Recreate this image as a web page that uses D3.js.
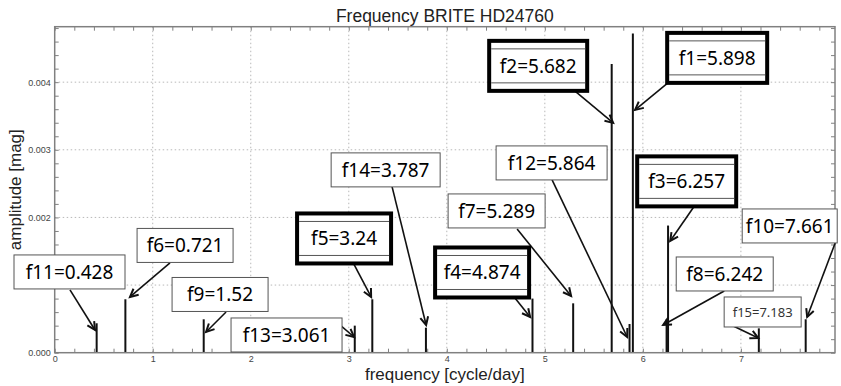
<!DOCTYPE html>
<html>
<head>
<meta charset="utf-8">
<script src="https://cdn.jsdelivr.net/npm/d3@7"></script>
<style>
body { margin: 0; background: #fff; }
</style>
</head>
<body>
<div id="chart"></div>
<script>
// SVG dims
var width = 841;
var height = 386;
var margin = {left: 54.7, right: 6, top: 26.7, bottom: 33.3};

// Peak data (f1 ... f15)
var names = ["f1", "f2", "f3", "f4", "f5", "f6", "f7", "f8", "f9", "f10", "f11", "f12", "f13", "f14", "f15"];
var freqs = [5.898, 5.682, 6.257, 4.874, 3.24, 0.721, 5.289, 6.242, 1.52, 7.661, 0.428, 5.864, 3.061, 3.787, 7.183];
var amps = [0.00472, 0.00427, 0.00188, 0.00080, 0.00079, 0.00079, 0.00073, 0.000494, 0.000494, 0.000494, 0.000435, 0.000424, 0.00040, 0.00037, 0.00036];
var labels = ["f1=5.898", "f2=5.682", "f3=6.257", "f4=4.874", "f5=3.24", "f6=0.721", "f7=5.289", "f8=6.242", "f9=1.52", "f10=7.661", "f11=0.428", "f12=5.864", "f13=3.061", "f14=3.787", "f15=7.183"];

// Axis ticks
var xTicks = [0, 1, 2, 3, 4, 5, 6, 7];
var yTicks = [0, 0.001, 0.002, 0.003, 0.004];

// Annotation layout, in data units (label centre, arrow tail, arrow head)
var labelX = [6.758, 4.932, 6.447, 4.360, 2.952, 1.330, 4.508, 6.835, 1.687, 7.498, 0.151, 5.069, 2.365, 3.376, 7.222];
var labelY = [0.004359, 0.004241, 0.002533, 0.001186, 0.001689, 0.001586, 0.002096, 0.001164, 0.000861, 0.001874, 0.001194, 0.002806, 0.000262, 0.002703, 0.000602];
var tailX = [6.330, 5.207, 6.554, 4.646, 3.013, 1.176, 4.717, 6.830, 1.748, 7.962, 0.156, 5.074, 2.921, 3.442, 6.901];
var tailY = [0.004078, 0.00399, 0.002229, 0.000898, 0.001416, 0.001327, 0.00183, 0.000913, 0.000602, 0.001623, 0.000928, 0.002555, 0.000395, 0.002451, 0.00041];
var headX = [5.921, 5.697, 6.279, 4.850, 3.228, 0.768, 5.268, 6.207, 1.544, 7.676, 0.411, 5.840, 3.054, 3.789, 7.177];
var headY = [0.00359, 0.003398, 0.001652, 0.000528, 0.000824, 0.000824, 0.000839, 0.00041, 0.000306, 0.000528, 0.000336, 0.000232, 0.000232, 0.00041, 0.000217];
// box widths (px) and which boxes are emphasised
var boxW = [100, 98, 99, 94, 94, 96, 97, 97, 96, 95, 111, 111, 111, 109, 77];
var strong = [true, true, true, true, true, false, false, false, false, false, false, false, false, false, false];

var svg = d3.select("#chart").append("svg")
    .attr("width", width)
    .attr("height", height)
    .style("font-family", "'Liberation Sans', Arial, sans-serif");

var x = d3.scaleLinear().domain([0, 7.96]).range([margin.left, width - margin.right]);
var y = d3.scaleLinear().domain([0, 0.00482]).range([height - margin.bottom, margin.top]);

var plotW = x.range()[1] - x.range()[0];
var plotH = y.range()[0] - y.range()[1];

// grid
svg.append("g").selectAll("line.gx")
    .data(xTicks.slice(1)).enter()
    .append("line")
    .attr("x1", function(d) { return x(d); })
    .attr("x2", function(d) { return x(d); })
    .attr("y1", y.range()[1])
    .attr("y2", y.range()[0])
    .attr("stroke", "#b8b8b8")
    .attr("stroke-dasharray", "1.5,2.5");
svg.append("g").selectAll("line.gy")
    .data(yTicks.slice(1)).enter()
    .append("line")
    .attr("y1", function(d) { return y(d); })
    .attr("y2", function(d) { return y(d); })
    .attr("x1", x.range()[0])
    .attr("x2", x.range()[1])
    .attr("stroke", "#b8b8b8")
    .attr("stroke-dasharray", "1.5,2.5");

// axes with minor ticks, all pointing inwards
var xMinor = d3.range(0, 40).map(function(i) { return +(i * 0.2).toFixed(1); });
var yMinor = d3.range(0, 25).map(function(i) { return +(i * 0.0002).toFixed(4); });

function styleAxis(g) {
    g.select(".domain").remove();
    g.selectAll(".tick line").attr("stroke", "#808080");
    g.selectAll(".tick text").attr("fill", "#444").style("font-size", "9px");
}

svg.append("g")
    .attr("transform", "translate(0," + y.range()[0] + ")")
    .call(d3.axisBottom(x).tickValues(xMinor).tickSize(-4).tickPadding(3)
        .tickFormat(function(d) { return xTicks.indexOf(d) >= 0 ? d : ""; }))
    .call(styleAxis);
svg.append("g")
    .attr("transform", "translate(0," + y.range()[1] + ")")
    .call(d3.axisTop(x).tickValues(xMinor).tickSize(-4).tickFormat(""))
    .call(styleAxis);
svg.append("g")
    .attr("transform", "translate(" + x.range()[0] + ",0)")
    .call(d3.axisLeft(y).tickValues(yMinor).tickSize(-4).tickPadding(4)
        .tickFormat(function(d) {
            return yTicks.some(function(t) { return Math.abs(t - d) < 1e-9; }) ? d3.format(".3f")(d) : "";
        }))
    .call(styleAxis);
svg.append("g")
    .attr("transform", "translate(" + x.range()[1] + ",0)")
    .call(d3.axisRight(y).tickValues(yMinor).tickSize(-4).tickFormat(""))
    .call(styleAxis);

// peaks
svg.append("g").selectAll("line")
    .data(freqs).enter()
    .append("line")
    .attr("x1", function(d) { return x(d); })
    .attr("x2", function(d) { return x(d); })
    .attr("y1", y(0))
    .attr("y2", function(d, i) { return y(amps[i]); })
    .attr("stroke", "#111")
    .attr("stroke-width", 2);

// frame
svg.append("rect")
    .attr("x", x.range()[0])
    .attr("y", y.range()[1])
    .attr("width", plotW)
    .attr("height", plotH)
    .attr("fill", "none")
    .attr("stroke", "#808080")
    .attr("stroke-width", 1.5);

// arrow marker
svg.append("defs").append("marker")
    .attr("id", "arr")
    .attr("markerUnits", "userSpaceOnUse")
    .attr("markerWidth", 12)
    .attr("markerHeight", 12)
    .attr("refX", 9)
    .attr("refY", 5)
    .attr("orient", "auto")
    .append("path")
    .attr("d", "M1,1 L9,5 L1,9")
    .attr("fill", "none")
    .attr("stroke", "#111")
    .attr("stroke-width", 2);

svg.append("g").selectAll("line")
    .data(names).enter()
    .append("line")
    .attr("x1", function(d, i) { return x(tailX[i]); })
    .attr("y1", function(d, i) { return y(tailY[i]); })
    .attr("x2", function(d, i) { return x(headX[i]); })
    .attr("y2", function(d, i) { return y(headY[i]); })
    .attr("stroke", "#111")
    .attr("stroke-width", 1.6)
    .attr("marker-end", "url(#arr)");

// label boxes
var boxes = svg.append("g").selectAll("g")
    .data(names).enter()
    .append("g")
    .attr("transform", function(d, i) { return "translate(" + x(labelX[i]) + "," + y(labelY[i]) + ")"; });

boxes.append("rect")
    .attr("x", function(d, i) { return -boxW[i] / 2; })
    .attr("y", function(d, i) { return strong[i] ? -25 : (d === "f15" ? -15 : -17); })
    .attr("width", function(d, i) { return boxW[i]; })
    .attr("height", function(d, i) { return strong[i] ? 50 : (d === "f15" ? 30 : 34); })
    .attr("fill", "#fff")
    .attr("stroke", function(d, i) { return strong[i] ? "#000" : "#555"; })
    .attr("stroke-width", function(d, i) { return strong[i] ? 4 : 1; });

boxes.filter(function(d, i) { return strong[i]; })
    .each(function(d) {
        var g = d3.select(this);
        var w = boxW[names.indexOf(d)];
        [-17, 17].forEach(function(off) {
            g.append("line")
                .attr("x1", -w / 2 + 2).attr("x2", w / 2 - 2)
                .attr("y1", off).attr("y2", off)
                .attr("stroke", "#555").attr("stroke-width", 1);
        });
    });

boxes.append("text")
    .attr("text-anchor", "middle")
    .attr("dy", "0.36em")
    .style("font-family", "'Noto Sans', 'DejaVu Sans', sans-serif")
    .style("font-size", function(d) { return d === "f15" ? "13px" : "19px"; })
    .attr("fill", function(d) { return d === "f15" ? "#333" : "#000"; })
    .text(function(d, i) { return labels[i]; });

// titles
svg.append("text")
    .attr("x", (x.range()[0] + x.range()[1]) / 2)
    .attr("y", 22)
    .attr("text-anchor", "middle")
    .style("font-size", "17.5px")
    .attr("fill", "#222")
    .text("Frequency BRITE HD24760");

svg.append("text")
    .attr("x", (x.range()[0] + x.range()[1]) / 2)
    .attr("y", 380)
    .attr("text-anchor", "middle")
    .style("font-size", "17px")
    .attr("fill", "#222")
    .text("frequency [cycle/day]");

svg.append("text")
    .attr("transform", "translate(21," + (y.range()[0] + y.range()[1]) / 2 + ") rotate(-90)")
    .attr("text-anchor", "middle")
    .style("font-size", "17px")
    .attr("fill", "#222")
    .text("amplitude [mag]");
</script>
</body>
</html>
